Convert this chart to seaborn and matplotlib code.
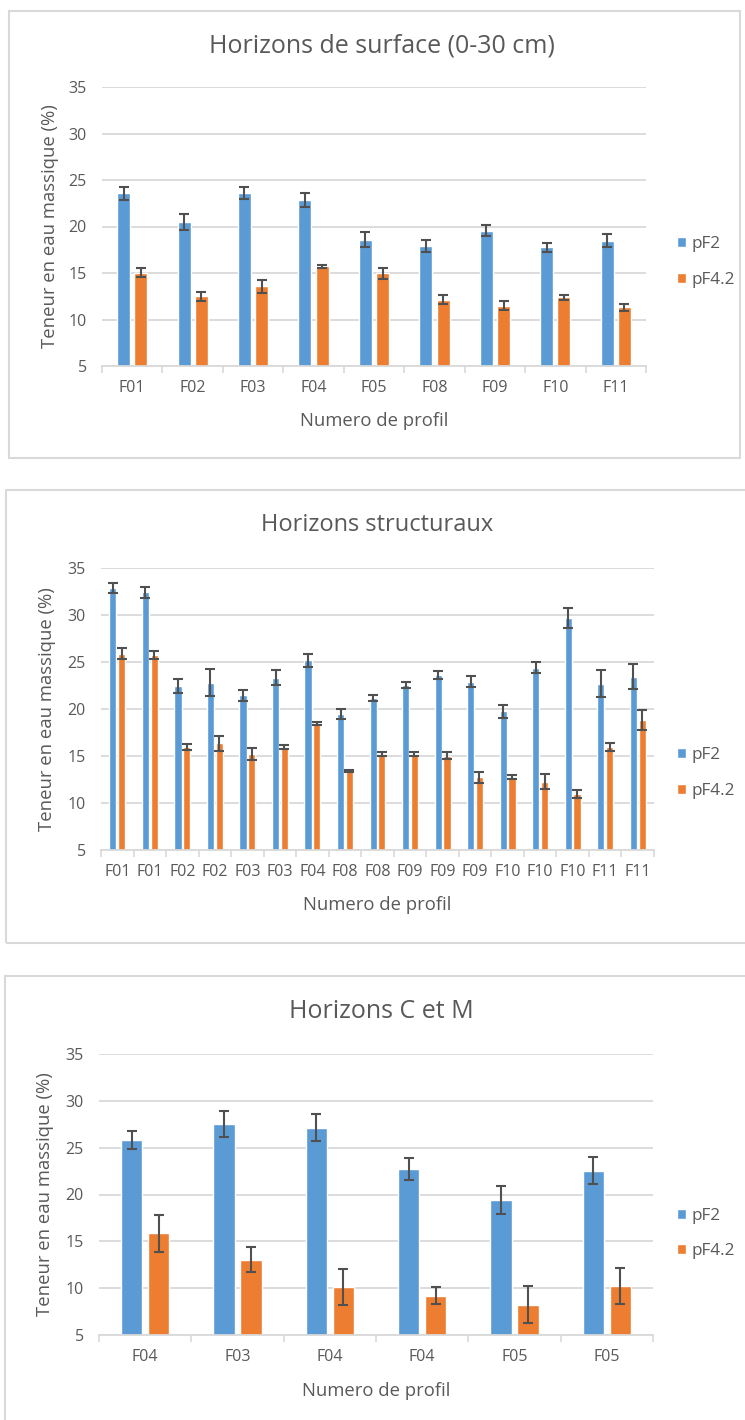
import numpy as np
import pandas as pd
import matplotlib
matplotlib.use("Agg")
import matplotlib.pyplot as plt
from matplotlib.patches import Rectangle, Patch
import seaborn as sns

# ---- data -------------------------------------------------------------
series = ["pF2", "pF4.2"]

surf_profiles = ["F01", "F02", "F03", "F04", "F05", "F08", "F09", "F10", "F11"]
surf_pf2 = [23.6, 20.5, 23.6, 22.85, 18.6, 17.9, 19.55, 17.75, 18.45]
surf_pf2_err = [0.7, 0.85, 0.65, 0.75, 0.8, 0.65, 0.6, 0.5, 0.7]
surf_pf42 = [15.05, 12.5, 13.55, 15.7, 14.95, 12.15, 11.5, 12.4, 11.3]
surf_pf42_err = [0.5, 0.5, 0.65, 0.12, 0.55, 0.45, 0.5, 0.25, 0.35]

struct_profiles = ["F01", "F01", "F02", "F02", "F03", "F03", "F04", "F08", "F08",
                   "F09", "F09", "F09", "F10", "F10", "F10", "F11", "F11"]
struct_pf2 = [32.9, 32.4, 22.45, 22.8, 21.45, 23.3, 25.2, 19.45, 21.2,
              22.55, 23.6, 22.9, 19.75, 24.4, 29.7, 22.7, 23.45]
struct_pf2_err = [0.55, 0.6, 0.7, 1.45, 0.6, 0.8, 0.7, 0.55, 0.3,
                  0.3, 0.45, 0.6, 0.7, 0.6, 1.05, 1.4, 1.3]
struct_pf42 = [25.9, 25.75, 15.95, 16.35, 15.2, 15.95, 18.45, 13.4, 15.2,
               15.2, 15.05, 12.75, 12.8, 12.25, 10.95, 15.95, 18.8]
struct_pf42_err = [0.55, 0.45, 0.3, 0.8, 0.6, 0.2, 0.15, 0.15, 0.2,
                   0.18, 0.35, 0.6, 0.23, 0.8, 0.43, 0.4, 1.05]

cm_profiles = ["F04", "F03", "F04", "F04", "F05", "F05"]
cm_pf2 = [25.85, 27.5, 27.15, 22.75, 19.45, 22.55]
cm_pf2_err = [0.95, 1.4, 1.4, 1.2, 1.5, 1.45]
cm_pf42 = [15.85, 13.05, 10.15, 9.2, 8.25, 10.25]
cm_pf42_err = [1.95, 1.3, 1.9, 0.9, 2.0, 1.9]

titles = ["Horizons de surface (0-30 cm)", "Horizons structuraux", "Horizons C et M"]
xlabel = "Numero de profil"
ylabel = "Teneur en eau massique (%)"
yticks = [5, 10, 15, 20, 25, 30, 35]

# ---- style ------------------------------------------------------------
sns.set_theme(style="white")
plt.rcParams["font.family"] = ["Open Sans", "DejaVu Sans"]

BLUE = "#5B9BD5"
ORANGE = "#ED7D31"
TXT = "#595959"
GRID = "#D9D9D9"
ERR = "#505050"

W, H = 745, 1420
fig = plt.figure(figsize=(W / 100, H / 100), dpi=100)
fig.patch.set_facecolor("white")


def px_axes(left, right, top, bottom):
    return fig.add_axes([left / W, 1 - bottom / H, (right - left) / W, (bottom - top) / H])


def frame(x0, y0, x1, y1):
    fig.add_artist(Rectangle((x0 / W, 1 - y1 / H), (x1 - x0) / W, (y1 - y0) / H,
                             transform=fig.transFigure, fill=False,
                             edgecolor=GRID, linewidth=1.5))


def panel(ax, profiles, v1, e1, v2, e2, title, title_fs, bar_w, bar_gap,
          title_xy, xlabel_y, ylabel_x, legend_y):
    n = len(profiles)
    df = pd.DataFrame({
        "pos": list(range(n)) * 2,
        "serie": [series[0]] * n + [series[1]] * n,
        "valeur": list(v1) + list(v2),
    })
    slot = bar_w + bar_gap
    sns.barplot(data=df, x="pos", y="valeur", hue="serie", hue_order=series,
                palette=[BLUE, ORANGE], errorbar=None, width=2 * slot,
                gap=1 - bar_w / slot, saturation=1, ax=ax, legend=False)

    for cont, err in zip(ax.containers, [e1, e2]):
        xs = [p.get_x() + p.get_width() / 2 for p in cont.patches]
        hs = [p.get_height() for p in cont.patches]
        ax.errorbar(xs, hs, yerr=err, fmt="none", ecolor=ERR, elinewidth=1.5,
                    capsize=3.4, capthick=1.5, zorder=5)

    ax.set_ylim(5, 35)
    ax.set_xlim(-0.5, n - 0.5)
    ax.set_yticks(yticks)
    ax.set_yticklabels([str(t) for t in yticks], color=TXT, fontsize=11.5)
    ax.set_xticks(range(n))
    ax.set_xticklabels(profiles, color=TXT, fontsize=11.5)
    ax.set_xticks(np.arange(n + 1) - 0.5, minor=True)
    ax.tick_params(axis="x", which="major", length=0, pad=10)
    ax.tick_params(axis="x", which="minor", length=5, color=GRID, width=1.2,
                   direction="out", bottom=True)
    ax.tick_params(axis="y", length=0, pad=11)
    ax.yaxis.grid(True, color=GRID, linewidth=1.3)
    ax.set_axisbelow(True)
    for side in ["top", "right", "left"]:
        ax.spines[side].set_visible(False)
    ax.spines["bottom"].set_color(GRID)
    ax.spines["bottom"].set_linewidth(1.3)
    ax.set_xlabel("")
    ax.set_ylabel("")

    bbox = ax.get_position()
    cx = (bbox.x0 + bbox.x1) / 2
    cy = (bbox.y0 + bbox.y1) / 2
    fig.text(title_xy[0] / W, 1 - title_xy[1] / H, title, ha="center", va="center",
             fontsize=title_fs, color=TXT)
    fig.text(cx, 1 - xlabel_y / H, xlabel, ha="center", va="center",
             fontsize=13.3, color=TXT)
    fig.text(ylabel_x / W, cy, ylabel, ha="center", va="center", rotation=90,
             fontsize=13.3, color=TXT)

    handles = [Patch(facecolor=BLUE), Patch(facecolor=ORANGE)]
    for h, lab, ly in zip(handles, series, legend_y):
        fig.legend([h], [lab], loc="center left",
                   bbox_to_anchor=(677 / W, 1 - ly / H), frameon=False,
                   fontsize=12.3, labelcolor=TXT, handlelength=0.5,
                   handleheight=0.5, handletextpad=0.35, borderpad=0,
                   borderaxespad=0)


# panel frames
frame(8.5, 11, 740, 458)
frame(6.5, 490, 760, 943)
frame(4.5, 976, 760, 1440)

ax1 = px_axes(102, 646, 87, 366)
panel(ax1, surf_profiles, surf_pf2, surf_pf2_err, surf_pf42, surf_pf42_err,
      titles[0], 18, 0.215, 0.07, (382, 46), 421, 50, (244, 280))

ax2 = px_axes(101, 654, 568, 850)
panel(ax2, struct_profiles, struct_pf2, struct_pf2_err, struct_pf42, struct_pf42_err,
      titles[1], 17, 0.22, 0.05, (377, 525), 905, 47, (755, 791))

ax3 = px_axes(99, 653, 1054, 1335)
panel(ax3, cm_profiles, cm_pf2, cm_pf2_err, cm_pf42, cm_pf42_err,
      titles[2], 18, 0.23, 0.06, (381, 1011), 1391, 45, (1216, 1251))

fig.savefig("out.png", dpi=100, facecolor="white")
